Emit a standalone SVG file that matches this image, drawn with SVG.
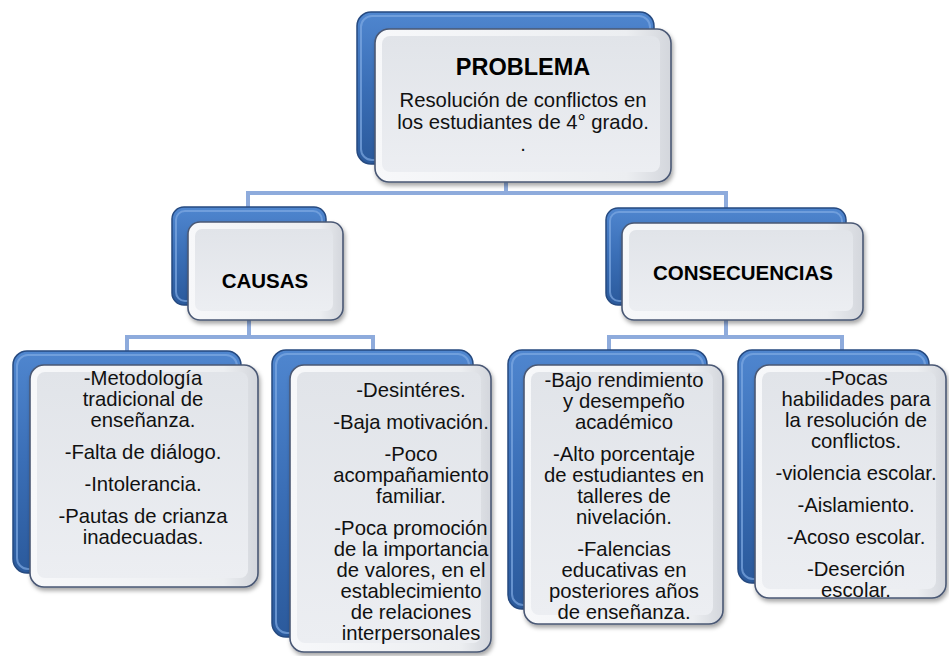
<svg xmlns="http://www.w3.org/2000/svg" width="949" height="656" viewBox="0 0 949 656">
<defs>
  <linearGradient id="backG" x1="0" y1="0" x2="0" y2="1">
    <stop offset="0" stop-color="#4f86cf"/>
    <stop offset="0.5" stop-color="#3a6eb6"/>
    <stop offset="1" stop-color="#2b5a9c"/>
  </linearGradient>
  <linearGradient id="frontOuter" x1="0" y1="0" x2="1" y2="0">
    <stop offset="0" stop-color="#f7f8fa"/>
    <stop offset="0.85" stop-color="#eceef1"/>
    <stop offset="1" stop-color="#d3d6dc"/>
  </linearGradient>
  <linearGradient id="frontFace" x1="0" y1="0" x2="0" y2="1">
    <stop offset="0" stop-color="#e1e4e9"/>
    <stop offset="1" stop-color="#eceef2"/>
  </linearGradient>
  <filter id="sh" x="-10%" y="-10%" width="125%" height="125%">
    <feDropShadow dx="1.5" dy="3" stdDeviation="2" flood-color="#000" flood-opacity="0.35"/>
  </filter>
</defs>
<style>
  .back { fill: url(#backG); stroke: #264a80; stroke-width: 1.5; }
  .hl { fill: none; stroke: #7fa9e2; stroke-width: 2; opacity: 0.7; }
  .front { fill: url(#frontOuter); stroke: #4a5874; stroke-width: 1.6; filter: url(#sh); }
  .face { fill: url(#frontFace); }
  .con { fill: none; stroke: #8eabdc; stroke-width: 4; }
  .t { font-family: "Liberation Sans", Arial, sans-serif; font-size: 20.3px; fill: #111; text-anchor: middle; }
  .h { font-family: "Liberation Sans", Arial, sans-serif; font-weight: bold; fill: #000; text-anchor: middle; }
</style>
<rect width="949" height="656" fill="#ffffff"/>

<g id="connectors">
  <path class="con" d="M506,165 V193"/>
  <path class="con" d="M248,209 V193 H726 V210"/>
  <path class="con" d="M249,305 V337"/>
  <path class="con" d="M127,352 V337 H373 V351"/>
  <path class="con" d="M726,305 V337"/>
  <path class="con" d="M609,351 V337 H842 V351"/>
</g>

<g id="problema">
  <rect class="back" x="357" y="12" width="297" height="152" rx="14"/>
  <rect class="hl" x="361" y="16" width="289" height="144" rx="11"/>
  <rect class="front" x="375" y="29" width="296" height="153" rx="14"/>
  <rect class="face" x="382" y="36" width="278" height="136" rx="8"/>
  <text class="h" x="523" y="75" font-size="23.5">PROBLEMA</text>
  <text class="t" x="523" y="107" font-size="21">Resolución de conflictos en</text>
  <text class="t" x="523" y="129" font-size="21">los estudiantes de 4° grado.</text>
  <text class="t" x="523" y="151" font-size="21">.</text>
</g>

<g id="causas">
  <rect class="back" x="172" y="207" width="154" height="98" rx="12"/>
  <rect class="hl" x="176" y="211" width="146" height="90" rx="9"/>
  <rect class="front" x="188" y="222" width="155" height="98" rx="12"/>
  <rect class="face" x="195" y="229" width="138" height="82" rx="7"/>
  <text class="h" x="265" y="288" font-size="20.5">CAUSAS</text>
</g>

<g id="consecuencias">
  <rect class="back" x="606" y="208" width="240" height="97" rx="12"/>
  <rect class="hl" x="610" y="212" width="232" height="89" rx="9"/>
  <rect class="front" x="622" y="223" width="241" height="97" rx="12"/>
  <rect class="face" x="629" y="230" width="224" height="81" rx="7"/>
  <text class="h" x="743" y="280" font-size="20.5">CONSECUENCIAS</text>
</g>

<g id="causa1">
  <rect class="back" x="13" y="351" width="228" height="222" rx="14"/>
  <rect class="hl" x="17" y="355" width="220" height="214" rx="11"/>
  <rect class="front" x="30" y="365" width="228" height="222" rx="14"/>
  <rect class="face" x="37" y="372" width="211" height="206" rx="8"/>
  <text class="t" x="143" y="385">-Metodología</text>
  <text class="t" x="143" y="406">tradicional de</text>
  <text class="t" x="143" y="427">enseñanza.</text>
  <text class="t" x="143" y="459">-Falta de diálogo.</text>
  <text class="t" x="143" y="491">-Intolerancia.</text>
  <text class="t" x="143" y="523">-Pautas de crianza</text>
  <text class="t" x="143" y="544">inadecuadas.</text>
</g>

<g id="causa2">
  <rect class="back" x="272" y="350" width="201" height="287" rx="14"/>
  <rect class="hl" x="276" y="354" width="193" height="279" rx="11"/>
  <rect class="front" x="290" y="365" width="201" height="287" rx="14"/>
  <rect class="face" x="297" y="372" width="184" height="271" rx="8"/>
  <text class="t" x="411" y="397">-Desintéres.</text>
  <text class="t" x="411" y="429">-Baja motivación.</text>
  <text class="t" x="411" y="461">-Poco</text>
  <text class="t" x="411" y="482">acompañamiento</text>
  <text class="t" x="411" y="503">familiar.</text>
  <text class="t" x="411" y="535">-Poca promoción</text>
  <text class="t" x="411" y="556">de la importancia</text>
  <text class="t" x="411" y="577">de valores, en el</text>
  <text class="t" x="411" y="598">establecimiento</text>
  <text class="t" x="411" y="619">de relaciones</text>
  <text class="t" x="411" y="640">interpersonales</text>
</g>

<g id="consecuencia1">
  <rect class="back" x="508" y="350" width="199" height="259" rx="14"/>
  <rect class="hl" x="512" y="354" width="191" height="251" rx="11"/>
  <rect class="front" x="524" y="365" width="199" height="259" rx="14"/>
  <rect class="face" x="531" y="372" width="182" height="243" rx="8"/>
  <text class="t" x="624" y="387">-Bajo rendimiento</text>
  <text class="t" x="624" y="408">y desempeño</text>
  <text class="t" x="624" y="429">académico</text>
  <text class="t" x="624" y="461">-Alto porcentaje</text>
  <text class="t" x="624" y="482">de estudiantes en</text>
  <text class="t" x="624" y="503">talleres de</text>
  <text class="t" x="624" y="524">nivelación.</text>
  <text class="t" x="624" y="556">-Falencias</text>
  <text class="t" x="624" y="577">educativas en</text>
  <text class="t" x="624" y="598">posteriores años</text>
  <text class="t" x="624" y="619">de enseñanza.</text>
</g>

<g id="consecuencia2">
  <rect class="back" x="738" y="350" width="191" height="233" rx="14"/>
  <rect class="hl" x="742" y="354" width="183" height="225" rx="11"/>
  <rect class="front" x="755" y="365" width="191" height="233" rx="14"/>
  <rect class="face" x="762" y="372" width="174" height="217" rx="8"/>
  <text class="t" x="856" y="385">-Pocas</text>
  <text class="t" x="856" y="406">habilidades para</text>
  <text class="t" x="856" y="427">la resolución de</text>
  <text class="t" x="856" y="448">conflictos.</text>
  <text class="t" x="856" y="480">-violencia escolar.</text>
  <text class="t" x="856" y="512">-Aislamiento.</text>
  <text class="t" x="856" y="544">-Acoso escolar.</text>
  <text class="t" x="856" y="576">-Deserción</text>
  <text class="t" x="856" y="597">escolar.</text>
</g>
</svg>
